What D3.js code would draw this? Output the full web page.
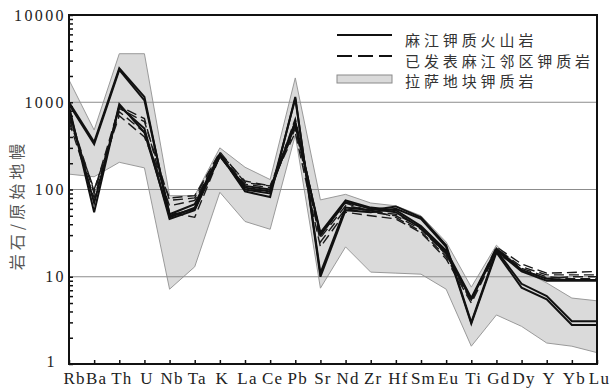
<!DOCTYPE html>
<html>
<head>
<meta charset="utf-8">
<title>spider</title>
<style>
	body { margin: 0; background: #fff; }
	.axis text { font-family: "Liberation Serif", serif; fill: #222; }
	.grid { stroke: #8c8c8c; stroke-width: 1; }
</style>
</head>
<body>
<div id="chart"></div>
<script src="https://cdn.jsdelivr.net/npm/d3@7"></script>
<script type="text/javascript">

// elements on the x axis
var elements = ["Rb","Ba","Th","U","Nb","Ta","K","La","Ce","Pb","Sr","Nd","Zr","Hf","Sm","Eu","Ti","Gd","Dy","Y","Yb","Lu"];

// Lhasa block potassic rocks, envelope
var bandTop = [1800, 480, 3600, 3600, 85, 85, 300, 180, 130, 1900, 76, 88, 70, 65, 50, 25, 7.6, 23, 12, 8.5, 5.7, 5.3];
var bandBottom = [150, 140, 205, 177, 7.2, 13, 93, 43, 35, 420, 7.4, 22, 11.3, 11, 10.7, 7.2, 1.6, 3.65, 2.7, 1.74, 1.6, 1.35];

// Majiang potassic volcanics (solid)
var mj1 = [1000, 350, 2450, 1150, 48, 62, 250, 95, 82, 1150, 10, 58, 55, 60, 46, 22, 2.9, 19, 7.5, 5.5, 2.8, 2.8];
var mj2 = [950, 330, 2350, 1050, 52, 68, 255, 100, 90, 1100, 11, 62, 58, 64, 48, 23, 3.0, 20, 8.3, 6.0, 3.1, 3.1];
var mj3 = [900, 55, 950, 450, 50, 60, 240, 110, 100, 550, 32, 75, 62, 58, 38, 20, 5.7, 21, 12, 9.5, 9.2, 9.2];
var mj4 = [820, 70, 900, 500, 46, 58, 245, 105, 95, 600, 30, 72, 60, 55, 36, 19, 5.5, 20, 11.5, 9.0, 9.0, 9.0];

// published neighbouring potassic rocks (dashed)
var pb1 = [700, 90, 850, 600, 75, 80, 270, 120, 110, 600, 25, 60, 55, 50, 35, 18, 5.5, 22, 14, 11, 11.2, 11.5];
var pb2 = [600, 80, 780, 450, 65, 75, 250, 115, 105, 500, 28, 65, 58, 48, 33, 17, 5.2, 21, 13, 10.5, 10.5, 10.5];
var pb3 = [650, 100, 700, 400, 80, 85, 260, 125, 110, 450, 22, 55, 50, 46, 32, 16, 5.0, 19, 12, 9.6, 10, 10];
var pb4 = [750, 95, 900, 650, 55, 48, 240, 100, 95, 650, 30, 70, 56, 52, 37, 18, 5.6, 20, 12.5, 10, 9.5, 9.5];

var solidSeries = [mj1, mj2, mj3, mj4];
var dashedSeries = [pb1, pb2, pb3, pb4];

var yTicks = [];
[1, 10, 100, 1000].forEach(function(d) {
	for (var k = 1; k < 10; k++) yTicks.push(d * k);
});
yTicks.push(10000);

var legendLabels = ["麻江钾质火山岩", "已发表麻江邻区钾质岩", "拉萨地块钾质岩"];

var w = 613, h = 392;

var svg = d3.select("#chart")
	.append("svg")
	.attr("width", w)
	.attr("height", h);

var x = d3.scalePoint().domain(elements).range([69, 597]);
var y = d3.scaleLog().domain([1, 10000]).range([364, 15]);

// band
var area = d3.area()
	.x(function(d, i) { return x(elements[i]); })
	.y0(function(d, i) { return y(bandBottom[i]); })
	.y1(function(d) { return y(d); });

svg.append("path")
	.datum(bandTop)
	.attr("d", area)
	.attr("fill", "#dadada")
	.attr("stroke", "#9a9a9a")
	.attr("stroke-width", 1);

// grid lines
svg.selectAll(".grid")
	.data([10, 100, 1000])
	.enter()
	.append("line")
	.attr("class", "grid")
	.attr("x1", 69)
	.attr("x2", 597)
	.attr("y1", function(d) { return y(d); })
	.attr("y2", function(d) { return y(d); });

var line = d3.line()
	.x(function(d, i) { return x(elements[i]); })
	.y(function(d) { return y(d); });

svg.selectAll(".dashed")
	.data(dashedSeries)
	.enter()
	.append("path")
	.attr("class", "dashed")
	.attr("d", line)
	.attr("fill", "none")
	.attr("stroke", "#1a1a1a")
	.attr("stroke-width", 1.4)
	.attr("stroke-dasharray", "10,5");

svg.selectAll(".solid")
	.data(solidSeries)
	.enter()
	.append("path")
	.attr("class", "solid")
	.attr("d", line)
	.attr("fill", "none")
	.attr("stroke", "#111")
	.attr("stroke-width", 2)
	.attr("stroke-linejoin", "miter");

// axes
var yAxis = d3.axisLeft(y)
	.tickValues(yTicks)
	.tickSizeInner(-4)
	.tickSizeOuter(0)
	.tickPadding(3)
	.tickFormat(function(d) { return [1, 10, 100, 1000, 10000].indexOf(d) >= 0 ? d : ""; });

var gy = svg.append("g")
	.attr("class", "axis")
	.attr("transform", "translate(69,0)")
	.call(yAxis);
gy.selectAll("text").attr("font-size", "16px").style("letter-spacing", "2.4px");
// the "1" sits a little higher and further left so it clears "Rb"
gy.selectAll("text").filter(function(d) { return d === 1; })
	.attr("y", -3).attr("x", -12);

var xAxis = d3.axisBottom(x)
	.tickSizeInner(-4)
	.tickSizeOuter(0)
	.tickPadding(8);

var gx = svg.append("g")
	.attr("class", "axis")
	.attr("transform", "translate(0,364)")
	.call(xAxis);
gx.selectAll("text").attr("font-size", "17px")
	.attr("dx", function(d) { return d === "Rb" ? 5 : 2; })
	.style("letter-spacing", "1.2px");

svg.selectAll(".axis line").attr("stroke", "#111").attr("stroke-width", 1.5);
svg.selectAll(".axis .domain").remove();

// frame
svg.append("rect")
	.attr("x", 69)
	.attr("y", 15)
	.attr("width", 528)
	.attr("height", 349)
	.attr("fill", "none")
	.attr("stroke", "#111")
	.attr("stroke-width", 2);

// y label
svg.append("text")
	.attr("transform", "translate(16,205) rotate(-90)")
	.attr("text-anchor", "middle")
	.attr("dominant-baseline", "central")
	.attr("font-family", "Noto Sans CJK SC")
	.attr("font-size", "16px")
	.style("letter-spacing", "4px")
	.attr("fill", "#555")
	.text("岩石/原始地幔");

// legend
var lg = svg.append("g");
lg.append("line").attr("x1", 337).attr("x2", 392).attr("y1", 35).attr("y2", 35)
	.attr("stroke", "#111").attr("stroke-width", 2);
lg.append("line").attr("x1", 337).attr("x2", 392).attr("y1", 56).attr("y2", 56)
	.attr("stroke", "#111").attr("stroke-width", 2).attr("stroke-dasharray", "15,6");
lg.append("rect").attr("x", 337).attr("y", 75).attr("width", 55).attr("height", 8)
	.attr("fill", "#dadada").attr("stroke", "#8a8a8a");

lg.selectAll("text")
	.data(legendLabels)
	.enter()
	.append("text")
	.attr("x", 405)
	.attr("y", function(d, i) { return [39, 60, 80][i]; })
	.attr("dominant-baseline", "central")
	.attr("font-family", "Noto Sans CJK SC")
	.attr("font-size", "15px")
	.style("letter-spacing", "3.9px")
	.attr("fill", "#333")
	.text(function(d) { return d; });

</script>
</body>
</html>
